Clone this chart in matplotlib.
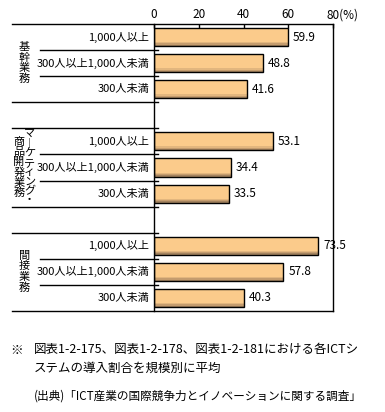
import matplotlib
matplotlib.use("Agg")
import matplotlib.pyplot as plt
import numpy as np

plt.rcParams['font.family'] = ['Noto Sans CJK JP', 'DejaVu Sans']

# data
groups = ["基幹業務", "マーケティング・商品開発業務", "間接業務"]
sizes = ["1,000人以上", "300人以上1,000人未満", "300人未満"]
values = [
    [59.9, 48.8, 41.6],
    [53.1, 34.4, 33.5],
    [73.5, 57.8, 40.3],
]
xticks = [0, 20, 40, 60, 80]
note1 = "図表1-2-175、図表1-2-178、図表1-2-181における各ICTシ"
note2 = "ステムの導入割合を規模別に平均"
source = "(出典)「ICT産業の国際競争力とイノベーションに関する調査」"

W, H = 385, 412
fig = plt.figure(figsize=(W / 100, H / 100), dpi=100)
ax = fig.add_axes([154 / W, 1 - 311 / H, 179 / W, 287 / H])

face = "#FBCB8B"
shades = ["#E2B67E", "#C49C6E", "#A3835F"]
bh = 0.69
fs = 8

for g, vals in enumerate(values):
    for i, v in enumerate(vals):
        y = g * 4 + i
        ax.barh(y, v, height=bh, color=face, edgecolor="none", zorder=2)
        # darker bands at bottom of each bar
        for k, c in enumerate(shades):
            ax.barh(y + bh / 2 - 0.05 * (len(shades) - k), v, height=0.05,
                    align="edge", color=c, edgecolor="none", zorder=2)
        ax.barh(y, v, height=bh, color="none", edgecolor="black", lw=1.0, zorder=3)
        ax.text(v + 2.2, y, f"{v:.1f}", va="center", ha="left", fontsize=8.5)
        ax.text(-0.028, y, sizes[i], transform=ax.get_yaxis_transform(),
                va="center", ha="right", fontsize=fs)

ax.set_xlim(0, 80)
ax.set_ylim(10.5, -0.5)
ax.set_yticks([])
ax.xaxis.tick_top()
ax.set_xticks(xticks)
ax.set_xticklabels([str(t) for t in xticks[:-1]] + [""], fontsize=8.5)
ax.tick_params(axis="x", direction="in", length=3, width=1, pad=2)
ax.annotate("80(%)", xy=(80, 1.0), xycoords=ax.get_xaxis_transform(),
            xytext=(-5, 2), textcoords="offset points", ha="left",
            va="bottom", fontsize=8.5)
for s in ["left", "right"]:
    ax.spines[s].set_linewidth(1)
ax.spines["top"].set_visible(False)
ax.spines["bottom"].set_visible(False)

tr = ax.get_yaxis_transform()
x0, x1, xin = -0.793, 0.022, -0.637
for yy in [-0.5, 10.5]:
    ax.plot([x0, 1.0], [yy, yy], color="black", lw=1, transform=tr, clip_on=False)
for yy in [2.5, 3.5, 6.5, 7.5]:
    ax.plot([x0, x1], [yy, yy], color="black", lw=1, transform=tr, clip_on=False)
for g in range(3):
    for yy in [g * 4 + 0.5, g * 4 + 1.5]:
        ax.plot([xin, x1], [yy, yy], color="black", lw=1, transform=tr, clip_on=False)


def vert(s):
    return "\n".join("︱" if ch == "ー" else ch for ch in s)


ax.text(-0.725, 1, vert(groups[0]), transform=tr, ha="center", va="center",
        fontsize=fs, linespacing=1.05)
ax.text(-0.695, 5.0, vert("マーケティング・"), transform=tr, ha="center",
        va="center", fontsize=fs, linespacing=0.92)
ax.text(-0.755, 5.0, vert("商品開発業務"), transform=tr, ha="center",
        va="center", fontsize=fs, linespacing=1.0)
ax.text(-0.725, 9, vert(groups[2]), transform=tr, ha="center", va="center",
        fontsize=fs, linespacing=1.05)

fig.text(10 / W, 1 - 350 / H, "※", ha="left", va="center", fontsize=9)
fig.text(34 / W, 1 - 350 / H, note1, ha="left", va="center", fontsize=9)
fig.text(34 / W, 1 - 368 / H, note2, ha="left", va="center", fontsize=9)
fig.text(34 / W, 1 - 396 / H, source, ha="left", va="center", fontsize=8.4)

fig.savefig("out.png", dpi=100)
